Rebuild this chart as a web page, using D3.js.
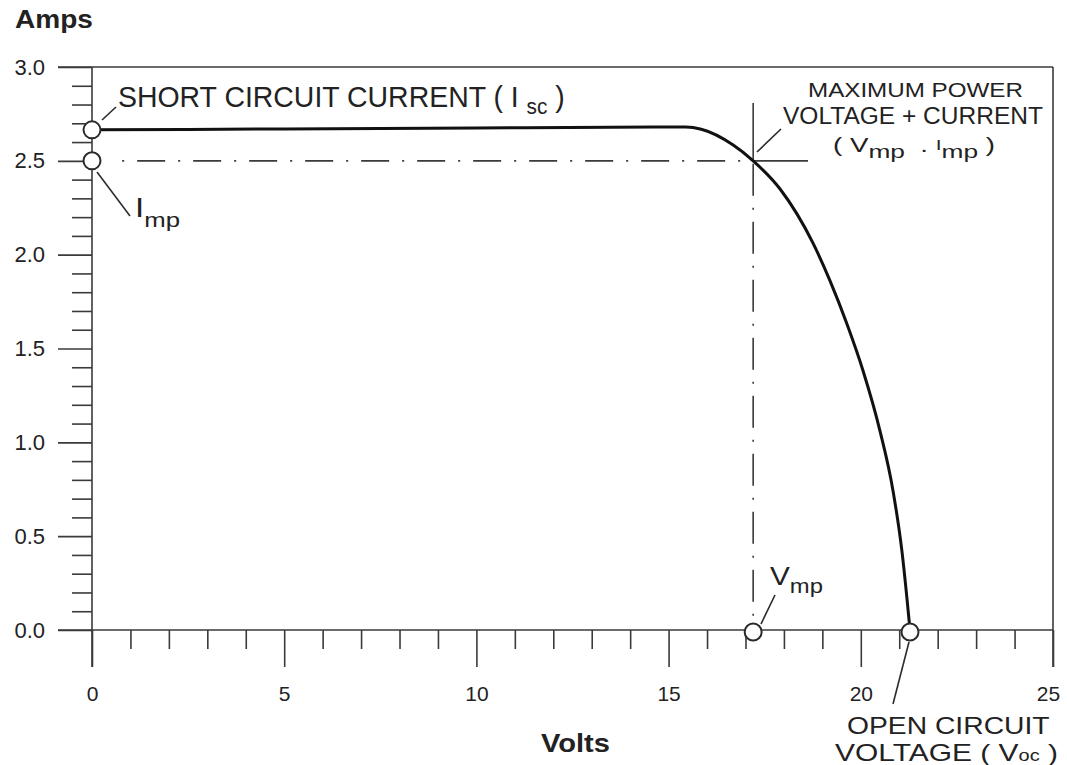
<!DOCTYPE html>
<html>
<head>
<meta charset="utf-8">
<script src="https://cdn.jsdelivr.net/npm/d3@7"></script>
<style>
  html, body { margin: 0; padding: 0; background: #fff; }
  svg { display: block; }
  text { font-family: "Liberation Sans", Arial, Helvetica, sans-serif; fill: #222; }
</style>
</head>
<body>
<svg id="chart" width="1067" height="765"></svg>
<script>
// ---- data ----
const voltTicks = [0, 5, 10, 15, 20, 25];
const voltMinorTicks = d3.range(0, 26).filter(v => v % 5 !== 0);
const ampTicks = [0, 0.5, 1.0, 1.5, 2.0, 2.5, 3.0];
const ampMinorTicks = d3.range(0, 31).filter(v => v % 5 !== 0).map(v => v / 10);

const volts = [0, 5, 10, 15, 15.45, 15.85, 16.68, 17.2, 17.9, 18.76, 19.2, 19.64, 20.06, 20.5, 20.84, 21.07, 21.2, 21.28];
const amps  = [2.665, 2.67, 2.675, 2.68, 2.68, 2.668, 2.584, 2.5, 2.35, 2.06, 1.86, 1.63, 1.38, 1.06, 0.74, 0.42, 0.17, 0];

const Isc = 2.665, Imp = 2.5, Vmp = 17.2, Voc = 21.28;

// ---- layout ----
const svg = d3.select("#chart");
const x = d3.scaleLinear().domain([0, 25]).range([92, 1053]);
const y = d3.scaleLinear().domain([0, 3]).range([630, 67]);
const ink = "#2a2a2a";
const axisInk = "#3a3a3a";

// frame lines
const frame = svg.append("g").attr("stroke", axisInk).attr("stroke-width", 1.6).attr("fill", "none");
frame.append("line").attr("x1", 58).attr("x2", x(25)).attr("y1", y(3)).attr("y2", y(3));
frame.append("line").attr("x1", 58).attr("x2", x(25)).attr("y1", y(0)).attr("y2", y(0));
frame.append("line").attr("x1", x(0)).attr("x2", x(0)).attr("y1", y(3)).attr("y2", y(0) + 37);
frame.append("line").attr("x1", x(25)).attr("x2", x(25)).attr("y1", y(3)).attr("y2", y(0) + 37);

// axes via d3
const yMajor = svg.append("g").attr("transform", `translate(${x(0)},0)`)
  .call(d3.axisLeft(y).tickValues(ampTicks).tickSize(34).tickPadding(13).tickFormat(d3.format(".1f")));
const yMinor = svg.append("g").attr("transform", `translate(${x(0)},0)`)
  .call(d3.axisLeft(y).tickValues(ampMinorTicks).tickSize(20).tickFormat(""));
const xMajor = svg.append("g").attr("transform", `translate(0,${y(0)})`)
  .call(d3.axisBottom(x).tickValues(voltTicks).tickSize(37).tickPadding(19).tickFormat(d3.format("d")));
const xMinor = svg.append("g").attr("transform", `translate(0,${y(0)})`)
  .call(d3.axisBottom(x).tickValues(voltMinorTicks).tickSize(19).tickFormat(""));

[yMajor, yMinor, xMajor, xMinor].forEach(g => {
  g.select(".domain").remove();
  g.selectAll(".tick line").attr("stroke", axisInk).attr("stroke-width", 1.6);
  g.selectAll(".tick text").attr("fill", "#222").style("font-family", '"Liberation Sans", Arial, sans-serif');
});
yMajor.selectAll(".tick text").style("font-size", "22px");
xMajor.selectAll(".tick text").style("font-size", "21px");
xMajor.selectAll(".tick text").filter(d => d === 25).attr("dx", -5);

// dash-dot reference lines
svg.append("line")
  .attr("x1", x(Vmp)).attr("x2", x(0) + 22).attr("y1", y(Imp)).attr("y2", y(Imp))
  .attr("stroke", axisInk).attr("stroke-width", 1.6)
  .attr("stroke-dasharray", "2,13,28,13").attr("stroke-dashoffset", 43);
svg.append("line")
  .attr("x1", x(Vmp)).attr("x2", 808).attr("y1", y(Imp)).attr("y2", y(Imp))
  .attr("stroke", axisInk).attr("stroke-width", 1.6);
svg.append("line")
  .attr("x1", x(Vmp)).attr("x2", x(Vmp)).attr("y1", y(Imp) + 3).attr("y2", y(0) - 8)
  .attr("stroke", axisInk).attr("stroke-width", 1.6)
  .attr("stroke-dasharray", "32,12,2,12");
svg.append("line")
  .attr("x1", x(Vmp)).attr("x2", x(Vmp)).attr("y1", y(Imp)).attr("y2", 103)
  .attr("stroke", axisInk).attr("stroke-width", 1.6);

// IV curve
const line = d3.line().x(d => x(d[0])).y(d => y(d[1])).curve(d3.curveMonotoneX);
svg.append("path")
  .datum(volts.map((v, i) => [v, amps[i]]))
  .attr("d", line)
  .attr("fill", "none").attr("stroke", "#111").attr("stroke-width", 3);

// leader lines
const leaders = [
  [102, 120, 116, 107],
  [97, 172, 130, 216],
  [757, 152, 781, 129],
  [761, 624, 775, 595],
  [909, 642, 893, 704]
];
svg.append("g").selectAll("line").data(leaders).join("line")
  .attr("x1", d => d[0]).attr("y1", d => d[1]).attr("x2", d => d[2]).attr("y2", d => d[3])
  .attr("stroke", ink).attr("stroke-width", 1.6);

// circles
const pts = [[0, Isc], [0, Imp], [Vmp, 0], [Voc, 0]];
svg.append("g").selectAll("circle").data(pts).join("circle")
  .attr("cx", d => x(d[0])).attr("cy", d => y(d[1]) + (d[1] === 0 ? 2 : 0)).attr("r", 8.5)
  .attr("fill", "#fff").attr("stroke", ink).attr("stroke-width", 2);

// text helper: parts [{t, fs, dy, bold}], left x, baseline, target width
function label(parts, left, base, width) {
  const g = svg.append("g");
  const t = g.append("text").attr("x", 0).attr("y", 0).attr("xml:space", "preserve");
  parts.forEach(p => {
    t.append("tspan").attr("y", p.dy || 0).style("font-size", p.fs + "px")
      .style("font-weight", p.bold ? "bold" : "normal").text(p.t);
  });
  const w = t.node().getBBox().width;
  const sx = width ? width / w : 1;
  g.attr("transform", `translate(${left},${base}) scale(${sx},1)`);
  return g;
}

label([{t: "Amps", fs: 26, bold: true}], 15, 28, 78);
label([{t: "Volts", fs: 26, bold: true}], 541, 752, 69);
label([{t: "SHORT CIRCUIT CURRENT ( I ", fs: 30}, {t: "sc", fs: 22, dy: 7}, {t: " )", fs: 30, dy: 0}], 118, 107, 447);
label([{t: "I", fs: 27}, {t: "mp", fs: 21, dy: 10}], 135, 217, 45);
label([{t: "MAXIMUM POWER", fs: 20}], 808, 97, 215);
label([{t: "VOLTAGE + CURRENT", fs: 23}], 783, 124, 260);
label([{t: "( V", fs: 20}, {t: "mp", fs: 19, dy: 6}, {t: "  . ", fs: 20, dy: 0}, {t: "I", fs: 15, dy: -2},
       {t: "mp", fs: 19, dy: 6}, {t: " )", fs: 20, dy: 0}], 833, 152, 162);
label([{t: "V", fs: 25}, {t: "mp", fs: 20, dy: 8}], 770, 585, 53);
label([{t: "OPEN CIRCUIT", fs: 24}], 847, 734, 203);
label([{t: "VOLTAGE ( V", fs: 24}, {t: "oc", fs: 16, dy: 0}, {t: " )", fs: 24, dy: 0}], 835, 761, 223);
</script>
</body>
</html>
